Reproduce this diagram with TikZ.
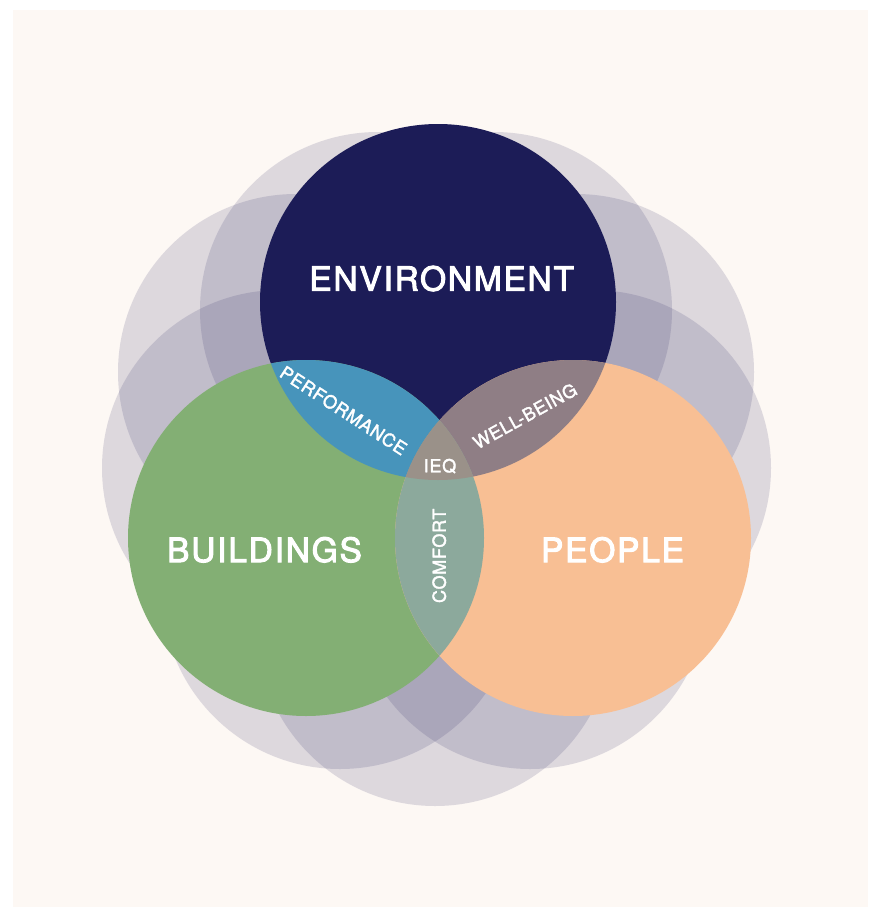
\documentclass[tikz,border=0pt]{standalone}
\usepackage{fontspec}
\newfontfamily\headfont{TeX Gyre Heros}[LetterSpace=5.5,FakeBold=3]
\newfontfamily\tagfont{TeX Gyre Heros}[LetterSpace=4,FakeBold=2]
\definecolor{paper}{HTML}{FDF8F4}
\definecolor{tint}{RGB}{39,35,96}
\definecolor{navy}{HTML}{1C1C57}
\definecolor{leaf}{HTML}{83AF74}
\definecolor{peach}{HTML}{F8BF94}
\definecolor{perfblue}{HTML}{4794BB}
\definecolor{wellmauve}{HTML}{8F7E85}
\definecolor{comfgreen}{HTML}{8CA99C}
\definecolor{ieqtaupe}{HTML}{9A9189}
\begin{document}
\begin{tikzpicture}[x=1pt,y=-1pt,
  halo/.style={fill=tint, fill opacity=0.15},
  disc/.style={circle, inner sep=0pt, outer sep=0pt, minimum size=356pt},
  head/.style={text=white, font=\headfont\fontsize{33.4}{40}\selectfont,
    inner sep=0pt, text height=24pt, text depth=0pt},
  tag/.style={text=white, font=\tagfont\fontsize{18}{22}\selectfont,
    inner sep=0pt, text height=13pt, text depth=0pt}]
% page and backdrop
\useasboundingbox (0,0) rectangle (868,907);
\fill[white] (0,0) rectangle (868,907);
\fill[paper] (13,10) rectangle (868,907);

% translucent petals behind the three domains
\fill[halo] (340,591) circle[radius=178pt];
\fill[halo] (435,628) circle[radius=178pt];
\fill[halo] (530,591) circle[radius=178pt];
\fill[halo] (593,468) circle[radius=178pt];
\fill[halo] (576,372) circle[radius=178pt];
\fill[halo] (494,310) circle[radius=178pt];
\fill[halo] (378,310) circle[radius=178pt];
\fill[halo] (296,372) circle[radius=178pt];
\fill[halo] (280,468) circle[radius=178pt];

% the three domains
\node[disc, fill=navy]  (env) at (438,302) {};
\node[disc, fill=leaf]  (bld) at (306,538) {};
\node[disc, fill=peach] (ppl) at (573,538) {};

% pairwise overlaps
\begin{scope}
  \clip (env.center) circle[radius=178pt];
  \fill[perfblue] (bld.center) circle[radius=178pt];
  \fill[wellmauve] (ppl.center) circle[radius=178pt];
\end{scope}
% buildings/people overlap and the common core
\begin{scope}
  \clip (bld.center) circle[radius=178pt];
  \fill[comfgreen] (ppl.center) circle[radius=178pt];
  \clip (ppl.center) circle[radius=178pt];
  \fill[ieqtaupe] (env.center) circle[radius=178pt];
\end{scope}

% labels
\node[head] (tenv) at (441.7,278.7) {ENVIRONMENT};
\node[head] (tbld) at (264.5,550) {BUILDINGS};
\node[head] (tppl) at (612.5,550) {PEOPLE};
\node[tag, rotate=-33] (tperf) at (343.5,410.5) {PERFORMANCE};
\node[tag, rotate=29] (twell) at (525,416) {WELL-BEING};
\node[tag] (tieq) at (440,465.8) {IEQ};
\node[tag, rotate=90] (tcomf) at (439.3,555.8) {COMFORT};
\end{tikzpicture}
\end{document}
